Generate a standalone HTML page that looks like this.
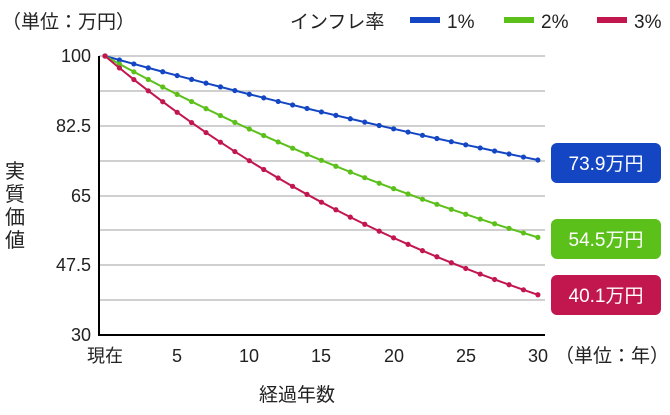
<!DOCTYPE html>
<html><head><meta charset="utf-8"><style>
html,body{margin:0;padding:0;background:#fff;width:670px;height:415px;overflow:hidden}
svg text{font-family:"Liberation Sans","Noto Sans CJK JP",sans-serif;fill:#222}
</style></head><body>
<svg width="670" height="415" viewBox="0 0 670 415" xmlns="http://www.w3.org/2000/svg">
<g stroke="#d0d0d0" stroke-width="2">
<line x1="99" x2="545" y1="56" y2="56"/><line x1="99" x2="545" y1="91" y2="91"/>
<line x1="99" x2="545" y1="126" y2="126"/><line x1="99" x2="545" y1="161" y2="161"/>
<line x1="99" x2="545" y1="196" y2="196"/><line x1="99" x2="545" y1="230" y2="230"/>
<line x1="99" x2="545" y1="265" y2="265"/><line x1="99" x2="545" y1="300" y2="300"/>
</g>
<line x1="99" y1="56" x2="99" y2="336" stroke="#000" stroke-width="2"/>
<line x1="98" y1="335" x2="545" y2="335" stroke="#000" stroke-width="2"/>
<g font-size="18" text-anchor="end">
<text x="91" y="62">100</text><text x="91" y="132">82.5</text><text x="91" y="202">65</text>
<text x="91" y="271">47.5</text><text x="91" y="341">30</text></g>
<g font-size="18" text-anchor="middle">
<text x="105" y="362">現在</text><text x="177" y="362">5</text><text x="249" y="362">10</text>
<text x="321" y="362">15</text><text x="394" y="362">20</text><text x="466" y="362">25</text><text x="538" y="362">30</text></g>
<text x="555" y="362" font-size="19">（単位：年）</text>
<text x="297" y="401" font-size="19" text-anchor="middle">経過年数</text>
<g font-size="20" text-anchor="middle"><text x="15" y="178">実</text><text x="15" y="201">質</text><text x="15" y="224">価</text><text x="15" y="247">値</text></g>
<text x="2" y="28" font-size="19">（単位：万円）</text>
<text x="290" y="28" font-size="19">インフレ率</text>
<rect x="410" y="17" width="30" height="6" fill="#1446c4"/><text x="447" y="28" font-size="19">1%</text>
<rect x="504" y="17" width="30" height="6" fill="#5cc01a"/><text x="541" y="28" font-size="19">2%</text>
<rect x="597" y="17" width="30" height="6" fill="#c2164f"/><text x="634" y="28" font-size="19">3%</text>
<g id="series"></g>
<rect x="551" y="143" width="110" height="40" rx="6" fill="#1446c4"/>
<text x="606" y="170" font-size="19" text-anchor="middle" style="fill:#fff">73.9万円</text>
<rect x="551" y="219" width="110" height="40" rx="6" fill="#5cc01a"/>
<text x="606" y="246" font-size="19" text-anchor="middle" style="fill:#fff">54.5万円</text>
<rect x="551" y="275" width="110" height="40" rx="6" fill="#c2164f"/>
<text x="606" y="302" font-size="19" text-anchor="middle" style="fill:#fff">40.1万円</text>
</svg>
<script>
var g=document.getElementById('series'),ns='http://www.w3.org/2000/svg';
[[73.9,'#1446c4'],[54.5,'#5cc01a'],[40.1,'#c2164f']].forEach(function(s){
 var r=Math.pow(100/s[0],1/30);
 var pts=[];for(var t=0;t<=30;t++){var v=100/Math.pow(r,t);pts.push([105+t*14.43,56+(100-v)*3.986]);}
 var p=document.createElementNS(ns,'polyline');p.setAttribute('points',pts.map(function(a){return a.join(',')}).join(' '));
 p.setAttribute('fill','none');p.setAttribute('stroke',s[1]);p.setAttribute('stroke-width','2');g.appendChild(p);
 pts.forEach(function(a){var c=document.createElementNS(ns,'circle');c.setAttribute('cx',a[0]);c.setAttribute('cy',a[1]);c.setAttribute('r','2.6');c.setAttribute('fill',s[1]);g.appendChild(c);});
});
</script>
</body></html>
